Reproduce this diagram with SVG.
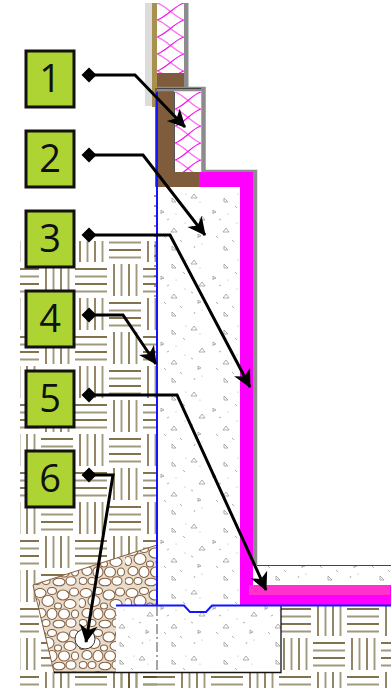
<svg xmlns="http://www.w3.org/2000/svg" width="391" height="688" viewBox="0 0 391 688">
<style>
.box{fill:#aed433;stroke:#111;stroke-width:3}
.num{font-family:"Open Sans","Liberation Sans",sans-serif;font-size:38px;fill:#111;text-anchor:middle}
.lead{fill:none;stroke:#000;stroke-width:3;stroke-linejoin:miter;marker-start:url(#dia);marker-end:url(#arr)}
.d{stroke:#5a4512;stroke-width:1.300}
.t{stroke:#a09a7c;stroke-width:1.900}
.m{fill:#ff00ff}
.g{fill:#8c8c8c}
</style>
<defs>
<marker id="dia" markerUnits="userSpaceOnUse" markerWidth="18" markerHeight="18" refX="9" refY="9" orient="0"><path d="M1.500 9 9 1.500 16.500 9 9 16.500Z" fill="#000"/></marker>
<marker id="arr" markerUnits="userSpaceOnUse" markerWidth="22" markerHeight="22" refX="19" refY="11" orient="auto"><path d="M20 11 2 2 7 11 2 20Z" fill="#000"/></marker>
<pattern id="earth" width="68" height="68" patternUnits="userSpaceOnUse" x="40" y="263">
<path class="d" d="M6 1V33M21 1V33M40 35V67M55 35V67"/><path class="t" d="M13.500 1V33M28.500 1V33M47.500 35V67M62.500 35V67"/>
<path class="d" d="M35 6H67M35 21H67M1 40H33M1 55H33"/><path class="t" d="M35 13.500H67M35 28.500H67M1 47.500H33M1 62.500H33"/>
</pattern>
<pattern id="conc" width="52" height="66" patternUnits="userSpaceOnUse" x="158" y="190">
<g fill="none" stroke="#9a9a9a" stroke-width=".8">
<path d="M14 8 18 12H14Z"/><path d="M36 4 33 8H39Z"/><path d="M3 20V24M3 20 6 22 3 23"/><path d="M44 26 41 30H47Z"/>
<path d="M16 38 13 42H19Z"/><path d="M40 44V48M40 44 43 46 40 47"/><path d="M14 56 18 60H14Z"/>
<path d="M25 16 27 18M9 30 11 29M33 36 35 37M22 50 24 52M6 46 8 48M36 58 37 56"/>
</g>
<g fill="#aaa"><circle cx="18" cy="24" r=".6"/><circle cx="42" cy="12" r=".6"/><circle cx="27" cy="33" r=".6"/><circle cx="44" cy="54" r=".6"/><circle cx="28" cy="4" r=".6"/></g>
</pattern>
<pattern id="ins" width="26" height="17" patternUnits="userSpaceOnUse" x="175" y="92">
<path d="M0 0C8 2 18 15 26 17" fill="none" stroke="#ff70f0" stroke-width="1.400"/><path d="M26 0C18 2 8 15 0 17" fill="none" stroke="#f010f0" stroke-width="1.200"/>
</pattern>
<pattern id="ins2" width="27" height="17" patternUnits="userSpaceOnUse" x="157" y="3">
<path d="M0 0C8 2 19 15 27 17" fill="none" stroke="#ff70f0" stroke-width="1.400"/><path d="M27 0C19 2 8 15 0 17" fill="none" stroke="#f010f0" stroke-width="1.200"/>
</pattern>
<pattern id="grav" width="46" height="42" patternUnits="userSpaceOnUse" x="33" y="545">
<rect width="46" height="42" fill="#e8dccc"/>
<g fill="#fff" stroke="#86603e" stroke-width="1.100">
<ellipse cx="7" cy="6" rx="6" ry="4.500"/><ellipse cx="19" cy="4" rx="4.500" ry="3.500"/><ellipse cx="30" cy="8" rx="6" ry="5"/><ellipse cx="41" cy="5" rx="4.500" ry="4"/>
<ellipse cx="3" cy="16" rx="3.500" ry="4.500"/><ellipse cx="15" cy="14" rx="6" ry="5.500"/><ellipse cx="25" cy="19" rx="3.500" ry="3"/><ellipse cx="37" cy="17" rx="6" ry="4.500"/>
<ellipse cx="8" cy="26" rx="5" ry="4.500"/><ellipse cx="19" cy="27" rx="5" ry="5.500"/><ellipse cx="31" cy="27" rx="5.500" ry="5"/><ellipse cx="42" cy="27" rx="3.500" ry="4"/>
<ellipse cx="4" cy="36" rx="4" ry="3.500"/><ellipse cx="13" cy="36" rx="4" ry="3.500"/><ellipse cx="26" cy="37" rx="6" ry="3.800"/><ellipse cx="38" cy="36" rx="5" ry="4.200"/>
</g>
</pattern>
</defs>

<rect x="20" y="241" width="137" height="447" fill="url(#earth)"/>
<rect x="281" y="606" width="110" height="82" fill="url(#earth)"/>
<rect x="116" y="672" width="165" height="16" fill="url(#earth)"/>

<rect x="145" y="3" width="7" height="103" fill="#dcdcdc"/>
<rect x="152" y="3" width="5" height="104" fill="#a8904f"/>
<rect x="157" y="3" width="27" height="70" fill="url(#ins2)"/>
<rect x="184" y="3" width="4.500" height="85" class="g"/>
<rect x="157" y="73" width="27" height="14" fill="#7f5c3c"/>
<rect x="157" y="187" width="83" height="418" fill="#fff"/>
<rect x="157" y="187" width="83" height="418" fill="url(#conc)"/>
<rect x="155" y="88" width="19" height="99" fill="#7f5c3c"/>
<rect x="155" y="172" width="44" height="15" fill="#7f5c3c"/>
<rect x="174" y="92" width="27" height="80" fill="#fff"/>
<rect x="175" y="92" width="26" height="80" fill="url(#ins)"/>
<path d="M174.500 92V172" stroke="#555" stroke-width="1"/>
<path d="M157 89H203.500V172H255V565" fill="none" stroke="#8c8c8c" stroke-width="4.500"/>
<path d="M157 88.500H201" stroke="#444" stroke-width="1.200"/>
<path d="M199 172H253V585H391V605H240V187H199Z" class="m"/>
<rect x="249" y="585" width="141" height="10" fill="#ff33cc"/>
<rect x="257" y="566" width="134" height="19" fill="#fff"/>
<rect x="257" y="566" width="134" height="19" fill="url(#conc)"/>
<path d="M257 565.500H391" stroke="#444" stroke-width="1.200"/>

<path d="M33 585 157 545V672H54Z" fill="url(#grav)" stroke="#86603e" stroke-width="1"/>
<rect x="116" y="606" width="165" height="66" fill="#fff"/>
<rect x="116" y="606" width="165" height="66" fill="url(#conc)"/>
<path d="M54 672.500H281V606" fill="none" stroke="#111" stroke-width="1.300"/>
<path d="M157 606V672" stroke="#888" stroke-width="1.500" stroke-dasharray="10 3 2 3"/>
<path d="M157 92V605" stroke="#1414ff" stroke-width="2"/>
<path d="M154 196H156M154 206H156M154 216H156M154 226H156M154 236H156M154 246H156M154 256H156M154 266H156M154 276H156M154 286H156M154 296H156" stroke="#333" stroke-width="1"/>
<path d="M116 605.500H184L190 612H206L212 605.500H391" fill="none" stroke="#1414ff" stroke-width="2"/>
<circle cx="85" cy="639" r="10" fill="#fff" stroke="#333" stroke-width="1"/>

<g id="connectors">
<path class="lead" d="M89 75H135L185 127"/>
<path class="lead" d="M89 155H143L205 235"/>
<path class="lead" d="M89 235H170L250 387"/>
<path class="lead" d="M89 315H123L156 364"/>
<path class="lead" d="M89 395H177L266 590"/>
<path class="lead" d="M89 475H113L86 642"/>
</g>

<g id="node1"><rect class="box" x="26" y="51" width="48" height="56"/><text class="num" x="50" y="92">1</text></g>
<g id="node2"><rect class="box" x="26" y="131" width="48" height="56"/><text class="num" x="50" y="172">2</text></g>
<g id="node3"><rect class="box" x="26" y="211" width="48" height="56"/><text class="num" x="50" y="252">3</text></g>
<g id="node4"><rect class="box" x="26" y="291" width="48" height="56"/><text class="num" x="50" y="332">4</text></g>
<g id="node5"><rect class="box" x="26" y="371" width="48" height="56"/><text class="num" x="50" y="412">5</text></g>
<g id="node6"><rect class="box" x="26" y="451" width="48" height="56"/><text class="num" x="50" y="492">6</text></g>
</svg>
